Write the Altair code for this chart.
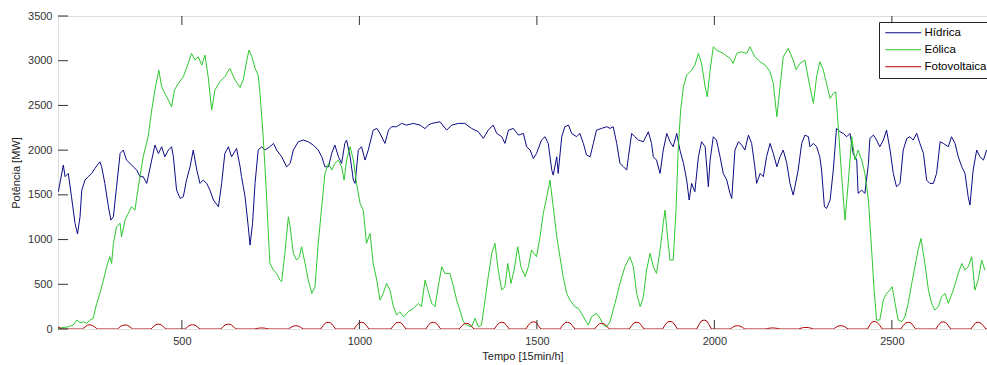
import altair as alt
import pandas as pd

series_names = ["Hídrica", "Eólica", "Fotovoltaica"]
series_colors = ["#0c0c84", "#2ec82e", "#b40000"]
x_ticks = [500, 1000, 1500, 2000, 2500]
y_ticks = [0, 500, 1000, 1500, 2000, 2500, 3000, 3500]

hydro_x = [152, 166, 171, 180, 189, 199, 206, 213, 218, 227, 236, 246, 255, 269, 274, 283, 293, 300, 307, 316,
           326, 335, 344, 354, 363, 373, 382, 391, 401, 415, 424, 434, 443, 452, 462, 471, 476, 485, 495, 504,
           513, 523, 532, 542, 551, 560, 570, 579, 589, 603, 612, 621, 631, 640, 654, 664, 668, 673, 678, 687,
           692, 699, 706, 715, 725, 734, 748, 758, 767, 781, 795, 805, 814, 828, 842, 856, 870, 884, 894, 903,
           913, 922, 931, 941, 950, 959, 964, 974, 983, 988, 997, 1006, 1016, 1025, 1039, 1049, 1058, 1072, 1082, 1091,
           1105, 1119, 1133, 1152, 1171, 1185, 1194, 1204, 1227, 1246, 1260, 1279, 1297, 1316, 1335, 1349, 1363, 1377, 1387, 1401,
           1410, 1420, 1434, 1448, 1462, 1471, 1481, 1490, 1499, 1513, 1523, 1532, 1542, 1546, 1556, 1560, 1570, 1579, 1589, 1598,
           1612, 1621, 1631, 1640, 1650, 1659, 1668, 1682, 1697, 1706, 1715, 1725, 1734, 1744, 1753, 1758, 1767, 1776, 1786, 1800,
           1814, 1823, 1828, 1837, 1847, 1856, 1866, 1875, 1884, 1894, 1903, 1913, 1922, 1929, 1936, 1945, 1955, 1964, 1974, 1983,
           1988, 1997, 2006, 2016, 2025, 2035, 2044, 2049, 2058, 2068, 2077, 2086, 2096, 2105, 2114, 2119, 2129, 2138, 2147, 2157,
           2166, 2176, 2185, 2194, 2204, 2213, 2222, 2227, 2236, 2246, 2255, 2265, 2269, 2279, 2288, 2297, 2302, 2310, 2316, 2326,
           2335, 2344, 2354, 2363, 2373, 2382, 2391, 2401, 2405, 2415, 2424, 2434, 2438, 2448, 2457, 2466, 2476, 2485, 2495, 2504,
           2513, 2523, 2532, 2542, 2551, 2560, 2570, 2579, 2589, 2598, 2607, 2617, 2626, 2636, 2645, 2659, 2668, 2678, 2687, 2697,
           2706, 2715, 2720, 2729, 2739, 2748, 2758, 2767]
hydro_y = [1535, 1833, 1703, 1740, 1479, 1181, 1062, 1255, 1553, 1665, 1703, 1740, 1796, 1870, 1814, 1628, 1367, 1218, 1255, 1591,
           1963, 2001, 1889, 1852, 1814, 1777, 1703, 1703, 1628, 1889, 2057, 1963, 2038, 1926, 2001, 2038, 1926, 1553, 1460, 1479,
           1665, 1814, 2001, 1777, 1628, 1665, 1628, 1553, 1442, 1367, 1628, 1963, 2038, 1926, 2019, 1814, 1703, 1591, 1479, 1143,
           938, 1181, 1628, 2001, 2038, 2001, 2038, 2075, 2001, 1926, 1814, 1852, 2001, 2094, 2113, 2094, 2057, 2001, 1926, 1814,
           1814, 1963, 2057, 1926, 1852, 2075, 2113, 1926, 1665, 1628, 2001, 2038, 1889, 2001, 2224, 2243, 2187, 2075, 2224, 2262,
           2262, 2299, 2280, 2299, 2280, 2240, 2280, 2299, 2317, 2224, 2280, 2299, 2299, 2243, 2206, 2131, 2224, 2280, 2187, 2150,
           2075, 2224, 2243, 2168, 2187, 2038, 2001, 1907, 1963, 2113, 2150, 2075, 1777, 1721, 1926, 1740, 2150, 2262, 2280, 2187,
           2150, 2187, 2075, 1945, 1926, 2075, 2224, 2243, 2262, 2243, 2262, 2075, 1852, 1814, 1777, 1926, 2187, 2150, 2113, 2094,
           2206, 2075, 1926, 1889, 1740, 2001, 2187, 2094, 2038, 2187, 2001, 1852, 1665, 1442, 1628, 1535, 1926, 2094, 2038, 1591,
           1889, 2150, 2113, 1926, 1740, 1665, 1516, 1460, 2001, 2094, 2057, 2001, 2168, 2075, 1814, 1628, 1740, 1703, 1926, 2075,
           1963, 1814, 1926, 2001, 1852, 1628, 1498, 1591, 1777, 2075, 2168, 2150, 2038, 2075, 2038, 1926, 1777, 1367, 1348, 1442,
           1777, 2243, 2206, 2187, 2150, 2187, 1963, 1889, 1516, 1553, 1516, 1852, 2131, 2168, 2113, 2038, 2113, 2224, 2001, 1740,
           1591, 1628, 2001, 2131, 2150, 2113, 2187, 2075, 1963, 1665, 1628, 1628, 1740, 2094, 2075, 2038, 2150, 2075, 1926, 1814,
           1740, 1479, 1386, 1777, 2001, 1926, 1889, 2001]

wind_x = [151, 180, 194, 204, 213, 222, 232, 241, 250, 260, 269, 279, 288, 297, 302, 307, 316, 326, 330, 340,
          349, 358, 368, 373, 382, 391, 405, 415, 424, 435, 443, 452, 462, 471, 479, 490, 504, 518, 527, 537,
          546, 556, 565, 574, 584, 593, 607, 621, 635, 650, 664, 673, 683, 689, 697, 706, 715, 720, 725, 729,
          734, 739, 744, 748, 758, 767, 776, 781, 790, 800, 805, 814, 823, 831, 837, 847, 856, 866, 875, 884,
          894, 903, 913, 922, 931, 941, 950, 957, 964, 974, 983, 992, 1002, 1011, 1020, 1030, 1039, 1049, 1058, 1067,
          1077, 1086, 1096, 1105, 1114, 1124, 1138, 1152, 1166, 1175, 1185, 1194, 1204, 1213, 1222, 1232, 1241, 1255, 1265, 1274,
          1283, 1293, 1302, 1316, 1326, 1335, 1344, 1354, 1363, 1373, 1382, 1391, 1401, 1410, 1418, 1427, 1436, 1446, 1455, 1467,
          1476, 1485, 1499, 1509, 1518, 1528, 1537, 1546, 1556, 1565, 1574, 1584, 1593, 1607, 1617, 1626, 1636, 1645, 1654, 1668,
          1678, 1687, 1697, 1706, 1720, 1734, 1748, 1762, 1772, 1781, 1791, 1800, 1809, 1819, 1828, 1837, 1847, 1856, 1861, 1868,
          1875, 1884, 1892, 1898, 1905, 1913, 1922, 1936, 1945, 1955, 1964, 1974, 1980, 1988, 1997, 2006, 2025, 2044, 2053, 2063,
          2077, 2091, 2100, 2114, 2129, 2143, 2157, 2166, 2176, 2185, 2194, 2208, 2222, 2230, 2241, 2255, 2269, 2279, 2288, 2297,
          2307, 2316, 2326, 2335, 2342, 2349, 2358, 2368, 2377, 2387, 2396, 2405, 2415, 2424, 2434, 2443, 2450, 2457, 2466, 2476,
          2485, 2495, 2501, 2509, 2518, 2528, 2537, 2546, 2556, 2565, 2574, 2582, 2593, 2603, 2612, 2621, 2631, 2640, 2650, 2659,
          2673, 2687, 2697, 2706, 2715, 2725, 2734, 2743, 2753, 2762]
wind_y = [7, 25, 44, 100, 70, 81, 63, 100, 119, 286, 398, 547, 696, 808, 733, 957, 1143, 1181, 1032, 1218,
          1293, 1367, 1330, 1479, 1703, 1926, 2150, 2448, 2672, 2895, 2709, 2634, 2560, 2485, 2672, 2746, 2821, 2970, 3081, 3007,
          3044, 2951, 3063, 2821, 2448, 2672, 2765, 2821, 2914, 2783, 2700, 2790, 3007, 3119, 3044, 2914, 2839, 2634, 2373, 2150,
          1814, 1442, 1032, 733, 659, 622, 547, 529, 845, 1255, 1143, 845, 771, 808, 920, 733, 547, 398, 473, 957,
          1367, 1740, 1852, 1777, 1852, 1889, 1814, 1665, 1889, 2038, 1889, 1628, 1404, 1330, 957, 1069, 733, 547, 324, 398,
          510, 435, 249, 156, 193, 137, 193, 230, 286, 249, 547, 420, 286, 249, 473, 696, 622, 622, 473, 324,
          212, 81, 44, 25, 119, 25, 44, 324, 585, 845, 957, 659, 435, 473, 733, 510, 659, 920, 696, 585,
          696, 883, 808, 1032, 1293, 1479, 1665, 1367, 1032, 808, 585, 398, 324, 249, 230, 175, 100, 44, 137, 175,
          119, 44, 25, 80, 286, 510, 696, 808, 696, 398, 249, 361, 659, 845, 696, 622, 883, 1181, 1330, 1032,
          771, 771, 1330, 2001, 2448, 2709, 2839, 2895, 2951, 3081, 2970, 2709, 2597, 2895, 3156, 3119, 3081, 3026, 2970, 3081,
          3100, 3081, 3156, 3044, 2988, 2951, 2877, 2746, 2373, 2709, 3044, 3137, 3007, 2900, 2970, 3007, 2709, 2523, 2821, 2988,
          2895, 2746, 2578, 2634, 2653, 2262, 1740, 1218, 1628, 2150, 1889, 2001, 1889, 1740, 1442, 883, 435, 100, 100, 324,
          398, 435, 473, 286, 100, 81, 137, 286, 510, 696, 883, 1013, 733, 435, 286, 212, 249, 361, 398, 286,
          435, 622, 733, 659, 696, 808, 435, 547, 771, 659]

# daily photovoltaic bumps: peak position and profile read around each peak
solar_peak_x = [241, 340, 434, 530, 631, 725, 821, 912, 1006, 1110, 1208, 1302, 1401, 1490,
                1586, 1683, 1781, 1875, 1971, 2065, 2164, 2258, 2356, 2452, 2546, 2645, 2744]
solar_profiles = [
    [0, 22, 42, 48, 40, 20, 0], [0, 25, 40, 45, 42, 22, 0], [0, 28, 50, 55, 48, 25, 0], [0, 24, 44, 48, 44, 22, 0],
    [0, 30, 50, 55, 50, 28, 0], [0, 6, 10, 12, 10, 5, 0], [0, 18, 33, 37, 33, 18, 0], [0, 40, 68, 75, 68, 38, 0],
    [0, 40, 70, 75, 68, 38, 0], [0, 38, 68, 75, 70, 40, 0], [0, 40, 70, 75, 68, 38, 0], [0, 32, 58, 63, 58, 30, 0],
    [0, 38, 70, 75, 70, 38, 0], [0, 42, 74, 80, 74, 40, 0], [0, 38, 70, 75, 68, 38, 0], [0, 32, 58, 63, 56, 30, 0],
    [0, 38, 70, 75, 70, 38, 0], [0, 45, 78, 85, 78, 44, 0], [0, 52, 92, 100, 92, 50, 0], [0, 18, 33, 37, 33, 18, 0],
    [0, 6, 10, 12, 10, 6, 0], [0, 9, 16, 18, 16, 9, 0], [0, 18, 33, 37, 33, 18, 0], [0, 45, 80, 85, 72, 40, 0],
    [0, 40, 68, 75, 70, 38, 0], [0, 42, 75, 80, 72, 40, 0], [0, 40, 72, 75, 65, 36, 0]]
solar_offsets = [-21, -14, -7, 0, 7, 14, 21]

rows = []
for t, p in zip(hydro_x, hydro_y):
    rows.append({"t": t, "p": p, "s": "Hídrica"})
for t, p in zip(wind_x, wind_y):
    rows.append({"t": t, "p": p, "s": "Eólica"})
rows.append({"t": 151, "p": 25, "s": "Fotovoltaica"})
rows.append({"t": 162, "p": 0, "s": "Fotovoltaica"})
for c, prof in zip(solar_peak_x, solar_profiles):
    for o, p in zip(solar_offsets, prof):
        rows.append({"t": c + o, "p": p, "s": "Fotovoltaica"})
rows.append({"t": 2780, "p": 0, "s": "Fotovoltaica"})
df = pd.DataFrame(rows)

W, H = 929, 313
FONT = "Liberation Sans"
xs = alt.Scale(domain=[151, 2768], nice=False, zero=False)
ys = alt.Scale(domain=[0, 3500], nice=False)
cs = alt.Scale(domain=series_names, range=series_colors)

x_axis = alt.Axis(values=x_ticks, format="d", title="Tempo [15min/h]", ticks=False, domain=False, grid=False,
                  labelFont=FONT, labelFontSize=11, labelColor="#333333", labelPadding=6, labelFlush=False,
                  titleFont=FONT, titleFontSize=11, titleFontWeight="normal", titleColor="#222222",
                  titlePadding=4)
y_axis = alt.Axis(values=y_ticks, format="d", title="Potência [MW]", ticks=False, domain=False, grid=False,
                  labelFont=FONT, labelFontSize=11, labelColor="#333333", labelPadding=6, labelFlush=False,
                  titleFont=FONT, titleFontSize=11, titleFontWeight="normal", titleColor="#222222",
                  titlePadding=6)

xt = pd.DataFrame({"v": x_ticks})
yt = pd.DataFrame({"v": y_ticks})
tick_color = "#333333"

tb = alt.Chart(xt).mark_rule(color=tick_color, strokeWidth=1).encode(
    x=alt.X("v:Q", scale=xs, axis=x_axis), y=alt.value(H), y2=alt.value(H - 9))
tt = alt.Chart(xt).mark_rule(color=tick_color, strokeWidth=1).encode(
    x=alt.X("v:Q", scale=xs, axis=x_axis), y=alt.value(0), y2=alt.value(9))
tl = alt.Chart(yt).mark_rule(color=tick_color, strokeWidth=1).encode(
    y=alt.Y("v:Q", scale=ys, axis=y_axis), x=alt.value(0), x2=alt.value(10))

legend = alt.Legend(title=None, orient="none", legendX=821, legendY=6, direction="vertical",
                    fillColor="white", strokeColor="#222222", padding=5,
                    symbolType="M-1,0H7", symbolSize=81, symbolStrokeWidth=1.2,
                    labelFont=FONT, labelFontSize=11.5, labelColor="black", labelOffset=29, rowPadding=4)


def series_layer(name):
    return alt.Chart(df).transform_filter(alt.datum.s == name).mark_line(strokeWidth=1, clip=True).encode(
        x=alt.X("t:Q", scale=xs, axis=x_axis),
        y=alt.Y("p:Q", scale=ys, axis=y_axis),
        color=alt.Color("s:N", scale=cs, legend=legend),
        order=alt.Order("t:Q"),
    )


chart = alt.layer(
    series_layer("Hídrica"),
    series_layer("Eólica"),
    series_layer("Fotovoltaica"),
    tb, tt, tl,
).properties(
    width=W, height=H,
    autosize=alt.AutoSizeParams(type="none"),
    padding={"left": 58, "top": 16, "right": 0, "bottom": 36},
).configure_view(stroke="#333333", strokeWidth=1).configure(background="white")

chart.save("out.html", embed_options={"renderer": "svg", "actions": False})
